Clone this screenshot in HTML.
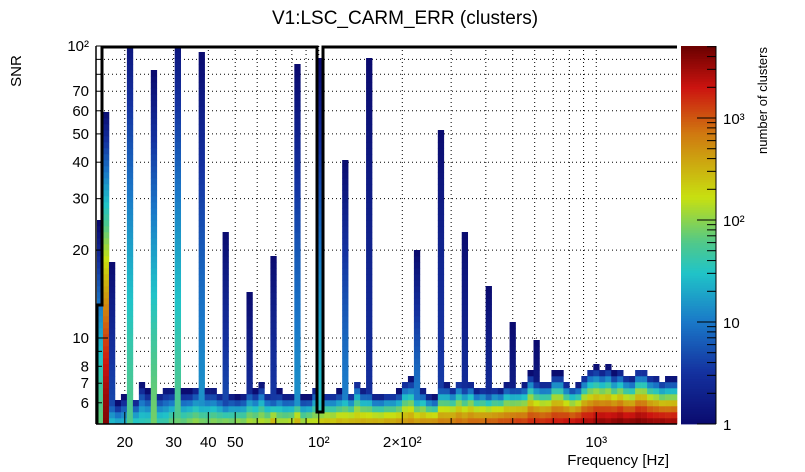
<!DOCTYPE html>
<html><head><meta charset="utf-8"><style>
body{margin:0;background:#fff;}
svg{display:block;font-family:"Liberation Sans",sans-serif;}
</style></head><body>
<svg id="chart" width="805" height="472" viewBox="0 0 805 472" xmlns="http://www.w3.org/2000/svg">
<text x="405" y="24" font-size="19" text-anchor="middle">V1:LSC_CARM_ERR (clusters)</text>
<text transform="translate(21,71) rotate(-90)" font-size="15" text-anchor="middle">SNR</text>
<text x="669" y="465" font-size="15" text-anchor="end">Frequency [Hz]</text>
<text transform="translate(767,47) rotate(-90)" font-size="13" text-anchor="end">number of clusters</text>
<g id="grid"></g>
<g id="cells"></g>
<g id="axes"></g>
<g id="cbar"></g>
<polyline points="97,424 97,305 102,305 102,47 317,47 317,412 323,412 323,47 677,47" fill="none" stroke="#000" stroke-width="3"/>
</svg>
<script>
// ---- data ----
const lineFreq = [16.3, 17.1, 17.9, 20.8, 25.4, 31.0, 37.9, 46.2, 56.4, 68.8, 84.0, 102.5, 125, 153, 227, 277, 339, 414, 505, 616];
const lineTop  = [24.8, 60, 18.4, 120, 81, 120, 95, 23.6, 14.4, 19.4, 85, 90, 41, 90, 19.6, 52, 23.6, 15, 11.2, 9.7];
const lineBase = [70, 4000, 5, 60, 80, 60, 15, 5, 3, 4, 15, 30, 12, 3, 12, 4, 3, 3, 2, 2];
// background per column (97 columns): bottom-row count and top SNR
const bgBase = [60,3000,30,25,25,40,40,40,45,50,50,50,80,90,80,100,120,100,90,110,100,120,100,130,110,150,140,160,150,400,150,160,180,400,150,200,180,
 300,330,300,380,330,390,360,420,390,450,420,480,450,520,500,570,520,600,630,680,750,720,820,900,820,980,1050,980,1200,1100,1350,1280,1500,1650,1500,1800,1950,1800,
 2000,2200,2100,2600,2400,2800,3200,2900,3600,3900,3400,4100,4500,3900,4300,4600,4200,3900,3700,3900,3400,3600];
const bgTop = [6.5,6.5,6.3,6.0,6.3,6.5,6.2,7.0,6.6,6.4,6.5,6.7,6.7,6.6,6.6,6.6,6.8,6.6,6.7,6.7,6.5,6.2,6.4,6.3,6.4,6.8,6.6,7.0,6.5,6.3,6.6,6.4,6.4,6.5,6.3,6.3,6.8,
 6.4,6.5,6.5,6.6,6.8,6.5,7.2,6.7,6.7,6.4,6.4,6.5,6.5,6.6,7.2,7.3,6.6,6.7,6.4,6.3,7.0,7.0,6.8,7.2,6.9,7.1,6.7,6.8,6.6,6.8,6.7,7.0,6.9,6.9,7.0,7.6,7.2,7.1,
 7.1,7.6,7.6,7.1,6.9,7.0,7.5,7.9,8.0,7.8,8.0,7.6,7.8,7.5,7.4,7.9,7.9,7.5,7.4,7.2,7.3,7.3];
const xTicks = [20,30,40,50,100,200,1000];
const xTickLabels = ["20","30","40","50","10²","2×10²","10³"];
const yTicks = [6,7,8,10,20,30,40,50,60,70,100];
const yTickLabels = ["6","7","8","10","20","30","40","50","60","70","10²"];
const zTicks = [1,10,100,1000];
const zTickLabels = ["1","10","10²","10³"];
// ---- axes ----
const X0=96, X1=677, Y0=424, Y1=46;
const LX0=Math.log10(15.75);
const xs=f=>X0+(Math.log10(f)-LX0)*277.5;
const ys=s=>338-(Math.log10(s)-1)*292;
const zMax=5000;
const zs=c=>424-Math.log10(c)*102;
const stops=[[0,[10,10,110]],[0.14,[20,50,160]],[0.27,[26,120,200]],[0.4,[32,196,200]],[0.48,[80,200,138]],[0.6,[200,224,16]],[0.77,[208,120,16]],[0.89,[204,20,16]],[1,[106,0,0]]];
function col(c){const t=Math.max(0,Math.min(1,Math.log10(c)/Math.log10(zMax)));
 for(let i=1;i<stops.length;i++){if(t<=stops[i][0]){const a=stops[i-1],b=stops[i],u=(t-a[0])/(b[0]-a[0]);
 return 'rgb('+a[1].map((v,k)=>Math.round(v+(b[1][k]-v)*u)).join(',')+')';}}return 'rgb(106,0,0)';}
const NS='http://www.w3.org/2000/svg';
function mk(tag,at,parent){const e=document.createElementNS(NS,tag);for(const k in at)e.setAttribute(k,at[k]);parent.appendChild(e);return e;}
const grid=document.getElementById('grid'),cells=document.getElementById('cells'),axes=document.getElementById('axes'),cbar=document.getElementById('cbar');
// grid
const gx=[20,30,40,50,60,70,80,90,100,200,300,400,500,600,700,800,900,1000];
gx.forEach(f=>{const x=xs(f);const l=mk('line',{x1:x,x2:x,y1:Y1,y2:Y0,stroke:'#000','stroke-width':1,'stroke-dasharray':'1,3'},grid);

});
const gy=[6,7,8,9,10,20,30,40,50,60,70,80,90];
gy.forEach(s=>{const y=ys(s);const l=mk('line',{x1:X0,x2:X1,y1:y,y2:y,stroke:'#000','stroke-width':1,'stroke-dasharray':'1,3'},grid);

});
// cells
const NC=97, NR=63, CW=(X1-X0-1)/NC, RH=(Y0-Y1)/NR;
const ls5=Math.log10(5);
for(let i=0;i<NC;i++){
 const xc=X0+1+(i+0.5)*CW;
 let li=-1;for(let k=0;k<lineFreq.length;k++){if(Math.abs(xs(lineFreq[k])-xc)<CW/2)li=k;}
 const base=bgBase[i]||1, top=bgTop[i]||6;
 for(let r=0;r<NR;r++){
  const yc=Y0-(r+0.5)*RH, s=Math.pow(10,1+(338-yc)/292);
  const ls=Math.log10(s);
  let c=0;
  const fb=(ls-ls5)/(Math.log10(top)-ls5);
  if(fb<=1)c=Math.pow(10,Math.log10(base)*(1-Math.pow(Math.max(fb,0),1.6)));
  if(li>=0){const fl=(ls-ls5)/(Math.log10(lineTop[li])-ls5);
   if(fl<=1){const cl=Math.pow(10,Math.log10(lineBase[li])*(1-Math.pow(Math.max(fl,0),1.5)));c=Math.max(c,Math.max(cl,1));}}
  if(!(c>=1))continue;
  const rc=mk('rect',{x:(X0+1+i*CW).toFixed(2),y:(Y0-(r+1)*RH).toFixed(2),width:(CW+0.3).toFixed(2),height:(RH+0.3).toFixed(2),fill:col(c)},cells);
  
  
 }
}
// axes
mk('line',{x1:X0,x2:X1,y1:Y0,y2:Y0,stroke:'#000','stroke-width':1.5},axes);
mk('line',{x1:X0,x2:X0,y1:Y1,y2:Y0,stroke:'#000','stroke-width':1.5},axes);
gx.forEach(f=>{const x=xs(f);const big=xTicks.includes(f);mk('line',{x1:x,x2:x,y1:Y0,y2:Y0-(big?12:6),stroke:'#000'},axes);});
xTicks.forEach((f,i)=>{const t=mk('text',{x:xs(f),y:447,'font-size':15,'text-anchor':'middle'},axes);t.textContent=xTickLabels[i];

});
gy.concat([100]).forEach(s=>{const y=ys(s);const big=(s===10||s===100);mk('line',{x1:X0,x2:X0+(big?12:6),y1:y,y2:y,stroke:'#000'},axes);});
yTicks.forEach((s,i)=>{const t=mk('text',{x:89,y:ys(s)+5,'font-size':15,'text-anchor':'end'},axes);t.textContent=yTickLabels[i];

});
// colorbar
for(let k=0;k<150;k++){const y0=424-k*(378/150);const c=Math.pow(zMax,(k+0.5)/150);
 mk('rect',{x:681,y:(y0-378/150).toFixed(2),width:35,height:(378/150+0.4).toFixed(2),fill:col(c)},cbar);}
mk('line',{x1:716,x2:716,y1:46,y2:424,stroke:'#000'},cbar);
[1,2,3,4,5,6,7,8,9,10,20,30,40,50,60,70,80,90,100,200,300,400,500,600,700,800,900,1000,2000,3000,4000,5000].forEach(c=>{
 const y=zs(c);const big=zTicks.includes(c);mk('line',{x1:716-(big?19:9),x2:716,y1:y,y2:y,stroke:'#000'},cbar);});
zTicks.forEach((c,i)=>{const t=mk('text',{x:723,y:zs(c)+6,'font-size':15},cbar);t.textContent=zTickLabels[i];

});
</script>
</body></html>
